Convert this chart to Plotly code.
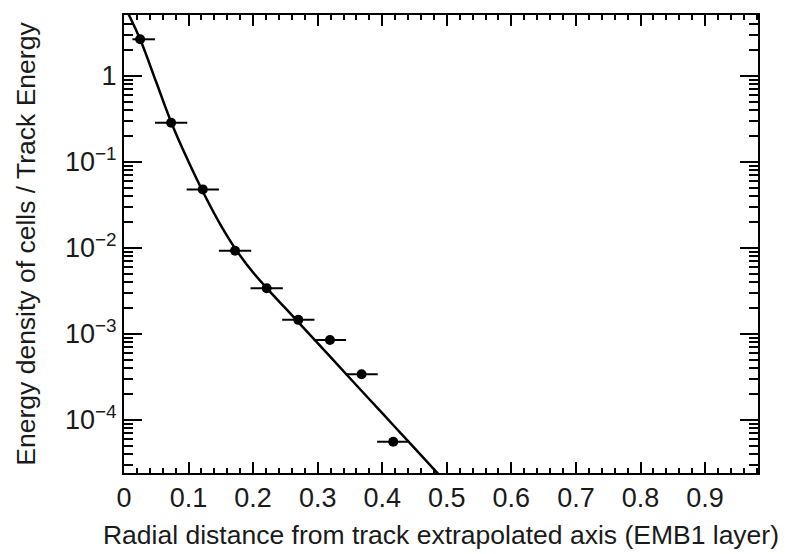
import plotly.graph_objects as go

# Measured points: radial bin position and energy density per track energy
r_points = [0.025, 0.073, 0.122, 0.172, 0.221, 0.270, 0.319, 0.368, 0.417]
density = [2.67, 0.286, 0.048, 0.0093, 0.0034, 0.00146, 0.00085, 0.00034, 0.000056]
r_err_plus = [0.023, 0.025, 0.025, 0.025, 0.025, 0.025, 0.025, 0.025, 0.025]
r_err_minus = [0.012, 0.025, 0.025, 0.025, 0.025, 0.025, 0.025, 0.025, 0.025]

# Fitted profile sampled along r
fit_r = [0.0, 0.025, 0.05, 0.075, 0.10, 0.125, 0.15, 0.175, 0.20, 0.225, 0.25,
         0.30, 0.35, 0.40, 0.45, 0.49]
fit_density = [6.71, 2.67, 0.845, 0.267, 0.1005, 0.0411, 0.01837, 0.0092, 0.00518,
               0.00318, 0.001995, 0.000782, 0.000306, 0.00012, 0.000047, 0.0000222]

y_tickvals = [1e-4, 1e-3, 1e-2, 1e-1, 1]
y_ticktext = ["10<sup>−4</sup>", "10<sup>−3</sup>", "10<sup>−2</sup>", "10<sup>−1</sup>", "1"]

FONT = "Liberation Sans, Arial, Helvetica, sans-serif"

fig = go.Figure()

fig.add_trace(go.Scatter(
    x=fit_r, y=fit_density, mode="lines",
    line=dict(color="black", width=2.5, shape="spline", smoothing=1.0),
    hoverinfo="skip", showlegend=False,
))

fig.add_trace(go.Scatter(
    x=r_points, y=density, mode="markers",
    marker=dict(color="black", size=10, symbol="circle"),
    error_x=dict(type="data", symmetric=False, array=r_err_plus,
                 arrayminus=r_err_minus, color="black", thickness=2, width=0),
    showlegend=False,
))

fig.update_layout(
    width=788, height=554,
    margin=dict(l=124, r=30, t=15, b=81),
    paper_bgcolor="white", plot_bgcolor="white",
    font=dict(family=FONT, color="#1a1a1a", size=27),
)

fig.update_xaxes(
    range=[0, 0.982], dtick=0.1, tick0=0,
    showgrid=False, zeroline=False, automargin=False,
    showline=True, linecolor="black", linewidth=2, mirror="ticks",
    ticks="inside", ticklen=11, tickwidth=1.5, tickcolor="black",
    minor=dict(ticks="inside", dtick=0.02, ticklen=5, tickwidth=1.5, tickcolor="black"),
    tickfont=dict(size=27),
    title=dict(text="Radial distance from track extrapolated axis (EMB1 layer)",
               font=dict(size=26.5), standoff=13),
)

fig.update_yaxes(
    type="log", range=[-4.616, 0.709],
    tickvals=y_tickvals, ticktext=y_ticktext,
    showgrid=False, zeroline=False, automargin=False,
    showline=True, linecolor="black", linewidth=2, mirror="ticks",
    ticks="inside", ticklen=18, tickwidth=1.5, tickcolor="black",
    minor=dict(ticks="inside", dtick="D1", ticklen=9, tickwidth=1.5, tickcolor="black"),
    tickfont=dict(size=27),
    title=dict(text="Energy density of cells / Track Energy",
               font=dict(size=26.5), standoff=22),
)

fig.write_html("out.html")
